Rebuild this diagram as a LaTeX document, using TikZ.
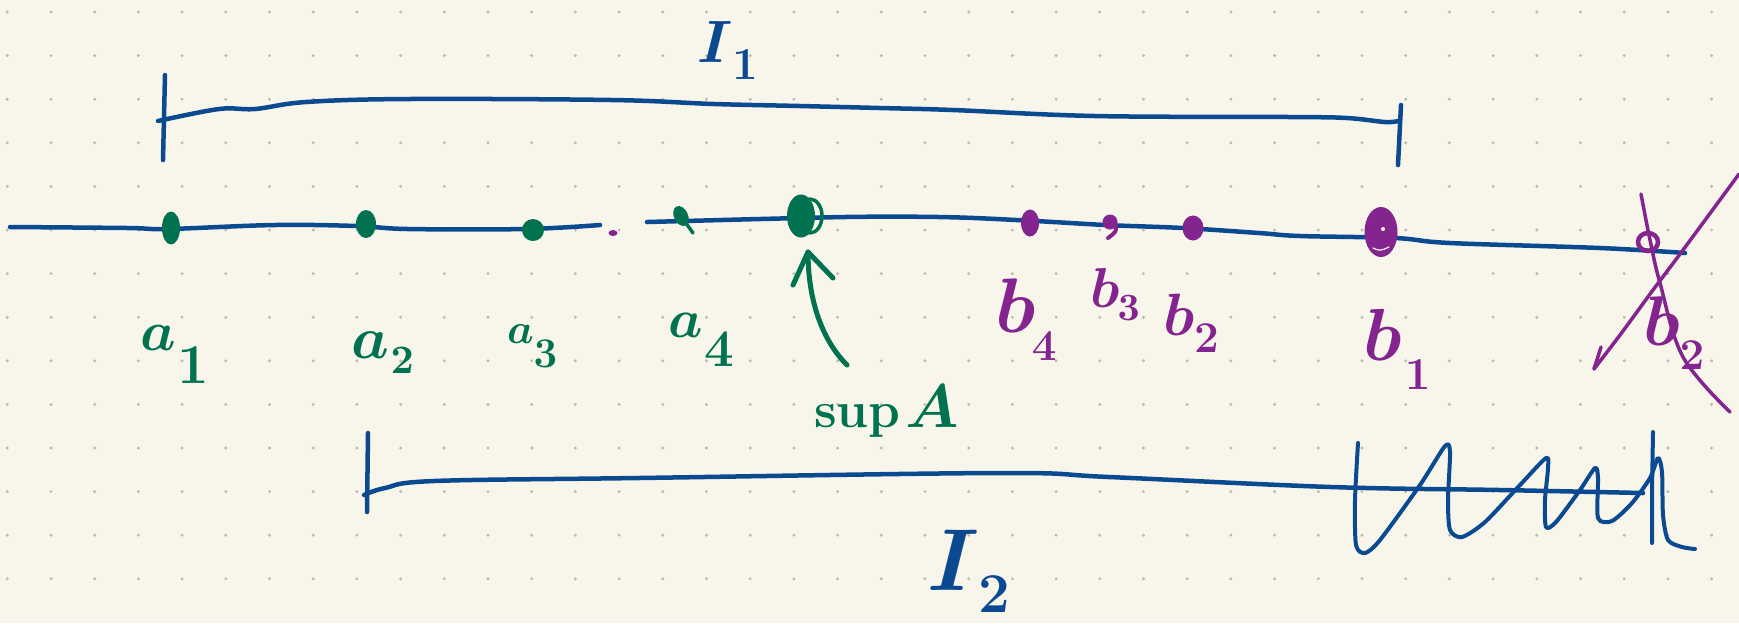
\RequirePackage{fix-cm}
\documentclass[tikz,border=0pt]{standalone}
\usepackage{graphicx}
\usetikzlibrary{shapes.geometric}
\definecolor{paper}{RGB}{248,246,235}
\definecolor{griddot}{RGB}{185,185,178}
\definecolor{ink}{RGB}{11,74,145}
\definecolor{grn}{RGB}{0,114,80}
\definecolor{prp}{RGB}{132,36,142}
\newcommand{\hw}[6]{{\fontsize{#2}{#2}\selectfont\boldmath$#1$}\kern#6\raisebox{-#5}{\fontsize{#4}{#4}\selectfont\boldmath$#3$}}
\newcommand{\hwtxt}[4]{{\fontsize{#1}{#1}\selectfont\boldmath$\mathrm{#2}$}\kern1.5pt{\fontsize{#3}{#3}\selectfont\boldmath$#4$}}
\tikzset{
  inkline/.style={draw=ink, line width=0.045cm, line cap=round, line join=round},
  gline/.style={draw=grn, line width=0.05cm, line cap=round, line join=round},
  pline/.style={draw=prp, line width=0.035cm, line cap=round, line join=round},
  gdot/.style={ellipse, fill=grn, inner sep=0pt, outer sep=0pt},
  pdot/.style={ellipse, fill=prp, inner sep=0pt, outer sep=0pt},
  lbl/.style={inner sep=0pt, outer sep=0pt, anchor=base west},
}
\begin{document}
\begin{tikzpicture}[x=0.01cm, y=-0.01cm]
\fill[paper] (0,0) rectangle (1739,623);
\useasboundingbox (0,0) rectangle (1739,623);
% dot grid
\foreach \i in {0,...,39}
  \foreach \j in {0,...,13}
    \fill[griddot] ({7.3+43.7*\i},{12+43.6*\j}) circle[radius=0.016cm];

% ---- I1 interval ----
\draw[inkline] plot[smooth, tension=0.6] coordinates {(158,121) (219,109) (255,109) (306,102) (408,99) (612,100) (714,104) (800,106) (880,108) (953,110) (1095,116) (1290,117) (1347,118) (1385,122) (1398,121)};
\draw[inkline] (165,75) -- (163,160);
\draw[inkline] (1401,105) -- (1398,165);
\node[lbl, text=ink] (I1) at (697,62) {\hw{I}{17pt}{1}{13pt}{5.1pt}{0pt}};

% ---- main number line ----
\draw[inkline] plot[smooth, tension=0.6] coordinates {(10,227) (128,228) (168,229) (275,225) (357,226) (408,229) (526,229) (600,225)};
\draw[inkline] plot[smooth, tension=0.6] coordinates {(647,222) (800,218) (873,216.7) (953,217.3) (1030,220.7) (1106,225) (1183,228) (1259,233) (1300,236) (1395,238) (1450,243) (1600,248) (1685,253)};

% green points
\node[gdot, minimum width=0.18cm, minimum height=0.33cm] (a1) at (171,228) {};
\node[gdot, minimum width=0.20cm, minimum height=0.28cm] (a2) at (366,224) {};
\node[gdot, minimum width=0.22cm, minimum height=0.22cm] (a3) at (533,230) {};
\node[gdot, minimum width=0.14cm, minimum height=0.21cm, rotate=25] (a4) at (681,216) {};
\draw[gline, line width=0.035cm] (a4.center) -- (693,233);
\node[gdot, minimum width=0.28cm, minimum height=0.43cm] (sA) at (801,216) {};
\draw[gline, line width=0.035cm] (810,216) ellipse [x radius=0.12cm, y radius=0.17cm];

% purple points
\node[pdot, minimum width=0.09cm, minimum height=0.06cm] (pd) at (613,233) {};
\node[pdot, minimum width=0.18cm, minimum height=0.27cm] (b4) at (1030,223) {};
\node[pdot, minimum width=0.15cm, minimum height=0.15cm] (b3) at (1110,222) {};
\draw[pline, line width=0.04cm] (1116,226) .. controls (1116,232) .. (1108,238);
\node[pdot, minimum width=0.21cm, minimum height=0.25cm] (b2) at (1193,228) {};
\node[pdot, minimum width=0.33cm, minimum height=0.50cm] (b1) at (1381,232) {};
\draw[paper, line width=0.012cm, line cap=round] (1373,248) .. controls (1380,251) .. (1389,247);
\fill[paper] (1383,229) circle[radius=0.02cm];
\node[draw=prp, line width=0.045cm, ellipse, inner sep=0pt, minimum width=0.2cm, minimum height=0.18cm] (bx) at (1648,242) {};

% labels a
\node[lbl, text=grn] (la1) at (140,350) {\hw{a}{16pt}{1}{16pt}{9.4pt}{0.5pt}};
\node[lbl, text=grn] (la2) at (351,358) {\hw{a}{17pt}{2}{11.5pt}{4.3pt}{0.5pt}};
\node[lbl, text=grn] (la3) at (507,343) {\hw{a}{12pt}{3}{12pt}{7.1pt}{0pt}};
\node[lbl, text=grn] (la4) at (668,337) {\hw{a}{15.5pt}{4}{15pt}{8.5pt}{0.5pt}};

% sup A with arrow
\node[lbl, text=grn] (lsup) at (814,427) {\hwtxt{14.5pt}{sup}{17.5pt}{A}};
\coordinate (arrT) at (808,252);
\coordinate (arrE) at (847,365);
\draw[gline] (arrE) .. controls (822,340) and (808,300) .. (arrT);
\draw[gline] (793,285) -- (arrT) -- (833,278);

% labels b
\node[lbl, text=prp] (lb4) at (995,332) {\hw{b}{22pt}{4}{12.5pt}{8pt}{-1pt}};
\node[lbl, text=prp] (lb3) at (1090,307) {\hw{b}{16pt}{3}{11pt}{3.7pt}{-0.5pt}};
\node[lbl, text=prp] (lb2) at (1163,335) {\hw{b}{17pt}{2}{12.5pt}{5.1pt}{0pt}};
\node[lbl, text=prp] (lb1) at (1363,360) {\hw{b}{21pt}{1}{13pt}{8.5pt}{1pt}};
\node[lbl, text=prp] (lbx) at (1643,345) {\hw{b}{20pt}{2}{12.5pt}{7.1pt}{0pt}};

% crossing out
\draw[pline] plot[smooth, tension=0.6] coordinates {(1641,194) (1650,240) (1660,283) (1683,357) (1730,412)};
\draw[pline] plot[smooth, tension=0.5] coordinates {(1739,174) (1683,250) (1653,290) (1620,335) (1594,369)};
\draw[pline] (1594,369) -- (1601,347);

% ---- I2 interval ----
\draw[inkline] (368,433) -- (367,512);
\draw[inkline] plot[smooth, tension=0.6] coordinates {(364,495) (385,488) (434,481) (638,478) (1000,473) (1109,477) (1331,487) (1500,490) (1643,493)};
\draw[inkline, line width=0.04cm] plot[smooth, tension=0.45] coordinates {(1358,443) (1355,500) (1356,545) (1365,553) (1380,540) (1420,485) (1445,446) (1450,452) (1448,500) (1450,530) (1462,537) (1485,522) (1520,485) (1546,458) (1548,468) (1545,500) (1546,527) (1556,522) (1580,490) (1595,468) (1598,478) (1598,518) (1612,521) (1632,503) (1650,478) (1658,458) (1662,472) (1663,515) (1668,540) (1682,547) (1695,549)};
\draw[inkline, line width=0.04cm] (1653,432) -- (1652,490) -- (1652,543);
\node[lbl, text=ink] (I2) at (927,590) {\hw{I}{25pt}{2}{16pt}{6.3pt}{0pt}};
\end{tikzpicture}
\end{document}
